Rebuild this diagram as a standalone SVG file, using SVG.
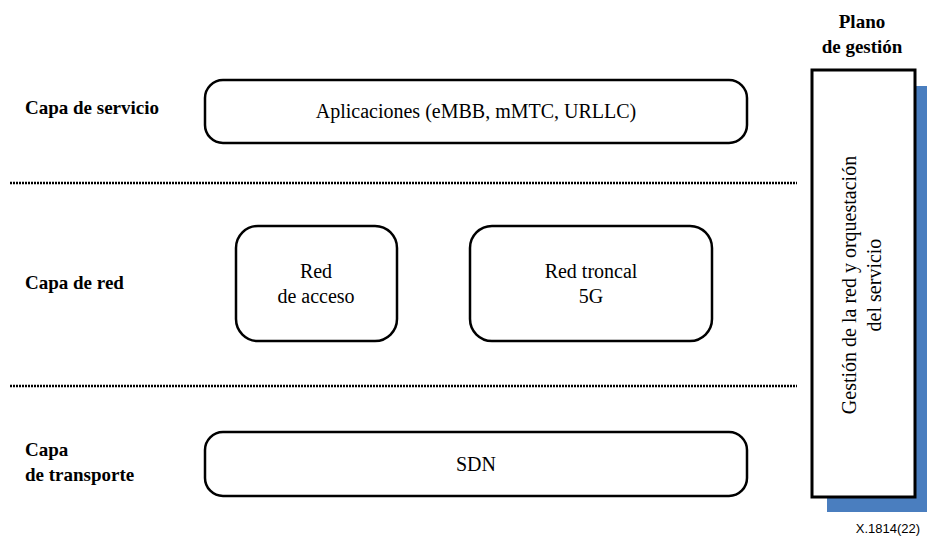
<svg xmlns="http://www.w3.org/2000/svg" width="927" height="538" viewBox="0 0 927 538" font-family="'Liberation Serif', serif">
<rect width="927" height="538" fill="#fff"/>
<g id="labels" font-size="19" font-weight="bold" fill="#000">
<text x="25" y="114">Capa de servicio</text>
<text x="25" y="289">Capa de red</text>
<text x="25" y="456">Capa</text>
<text x="25" y="481">de transporte</text>
<text x="862" y="28" text-anchor="middle">Plano</text>
<text x="862" y="53" text-anchor="middle">de gesti&#243;n</text>
</g>
<g id="separators" stroke="#000" stroke-width="2.5" stroke-dasharray="2 1" fill="none">
<line x1="10" y1="183" x2="797" y2="183"/>
<line x1="10" y1="386" x2="797" y2="386"/>
</g>
<g id="aplicaciones">
<rect x="205" y="80" width="542" height="63" rx="18" fill="#fff" stroke="#000" stroke-width="2.5"/>
<text font-size="20" text-anchor="middle" x="476" y="118">Aplicaciones (eMBB, mMTC, URLLC)</text>
</g>
<g id="red-acceso">
<rect x="236" y="226" width="161" height="115" rx="22" fill="#fff" stroke="#000" stroke-width="2.5"/>
<text font-size="20" text-anchor="middle" x="316" y="278">Red</text>
<text font-size="20" text-anchor="middle" x="316" y="303">de acceso</text>
</g>
<g id="red-troncal">
<rect x="470" y="226" width="242" height="115" rx="22" fill="#fff" stroke="#000" stroke-width="2.5"/>
<text font-size="20" text-anchor="middle" x="591" y="278">Red troncal</text>
<text font-size="20" text-anchor="middle" x="591" y="303">5G</text>
</g>
<g id="sdn">
<rect x="205" y="432" width="542" height="64" rx="18" fill="#fff" stroke="#000" stroke-width="2.5"/>
<text font-size="20" text-anchor="middle" x="476" y="471">SDN</text>
</g>
<g id="gestion">
<rect x="827" y="86" width="100" height="426" fill="#4a7ebf"/>
<rect x="812" y="70" width="103" height="427" fill="#fff" stroke="#000" stroke-width="3"/>
<text font-size="20" text-anchor="middle" transform="translate(856,285) rotate(-90)">Gesti&#243;n de la red y orquestaci&#243;n</text>
<text font-size="20" text-anchor="middle" transform="translate(881,285) rotate(-90)">del servicio</text>
</g>
<g id="connectors"></g>
<text x="888" y="533" font-family="'Liberation Sans', sans-serif" font-size="13" text-anchor="middle" fill="#000">X.1814(22)</text>
</svg>
